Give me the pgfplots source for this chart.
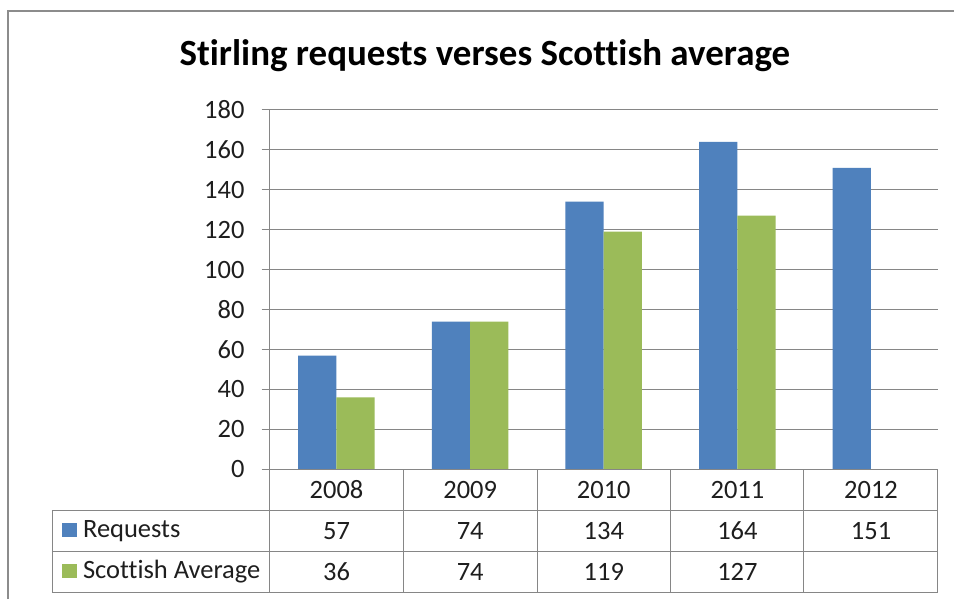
\documentclass[border=0pt]{standalone}
\usepackage{fontspec}
\setmainfont[Ligatures=NoCommon]{Carlito}
\usepackage{pgfplots}
\pgfplotsset{compat=1.18}
\definecolor{reqblue}{HTML}{4F81BD}
\definecolor{avggreen}{HTML}{9BBB59}
\definecolor{gridgray}{HTML}{868686}
\definecolor{bordergray}{HTML}{8C8C8C}
\definecolor{txt}{HTML}{1E1E1E}
\begin{document}
\begin{tikzpicture}[x=1pt,y=1pt]
\fill[white] (0,0) rectangle (955,600);
\draw[bordergray, line width=2.5pt] (8,0) -- (8,589) -- (955,589);
\node[font=\fontsize{37}{42}\selectfont\bfseries, anchor=base] at (485.5,534) {Stirling requests verses Scottish average};
\begin{axis}[
  at={(270pt,130pt)}, anchor=south west,
  width=669pt, height=360pt, scale only axis,
  ybar=0pt, bar width=38.3pt,
  xmin=-0.5, xmax=4.5, ymin=0, ymax=180,
  ytick={0,20,...,180}, xtick=\empty,
  ymajorgrids, grid style={gridgray, line width=0.8pt},
  axis line style={draw=none},
  tick style={gridgray, line width=0.8pt},
  ytick pos=left, tick align=outside, major tick length=8pt,
  /pgf/number format/assume math mode=true,
  yticklabel style={font=\fontsize{26.5}{30}\selectfont, text=txt, anchor=east, inner sep=0pt, xshift=-17pt},
  clip=false,
]
\addplot[fill=reqblue, draw=none] coordinates {(0,57) (1,74) (2,134) (3,164) (4,151)};
\addplot[fill=avggreen, draw=none] coordinates {(0,36) (1,74) (2,119) (3,127)};
\end{axis}
% data table grid
\begin{scope}[gridgray, line width=0.8pt]
\draw (270,490) -- (270,7);
\draw (270,130) -- (939,130);
\draw (52,89) -- (939,89);
\draw (52,48) -- (939,48);
\draw (52,7) -- (939,7);
\draw (52,89) -- (52,7);
\foreach \x in {404,538,671.5,804.5,939} \draw (\x,130) -- (\x,7);
\end{scope}
\begin{scope}[font=\fontsize{26.5}{30}\selectfont, text=txt]
\foreach \lab [count=\i from 0] in {2008,2009,2010,2011,2012}
  \node at (337+\i*133.8,109.5) {\lab};
\foreach \v [count=\i from 0] in {57,74,134,164,151}
  \node at (337+\i*133.8,68.5) {\v};
\foreach \v [count=\i from 0] in {36,74,119,127}
  \node at (337+\i*133.8,27.5) {\v};
\fill[reqblue] (62,62) rectangle (77,76);
\fill[avggreen] (62,21) rectangle (77,35);
\node[anchor=west, inner sep=0pt] at (83,68.5) {Requests};
\node[anchor=west, inner sep=0pt] at (83,27.5) {Scottish Average};
\end{scope}
\end{tikzpicture}
\end{document}
